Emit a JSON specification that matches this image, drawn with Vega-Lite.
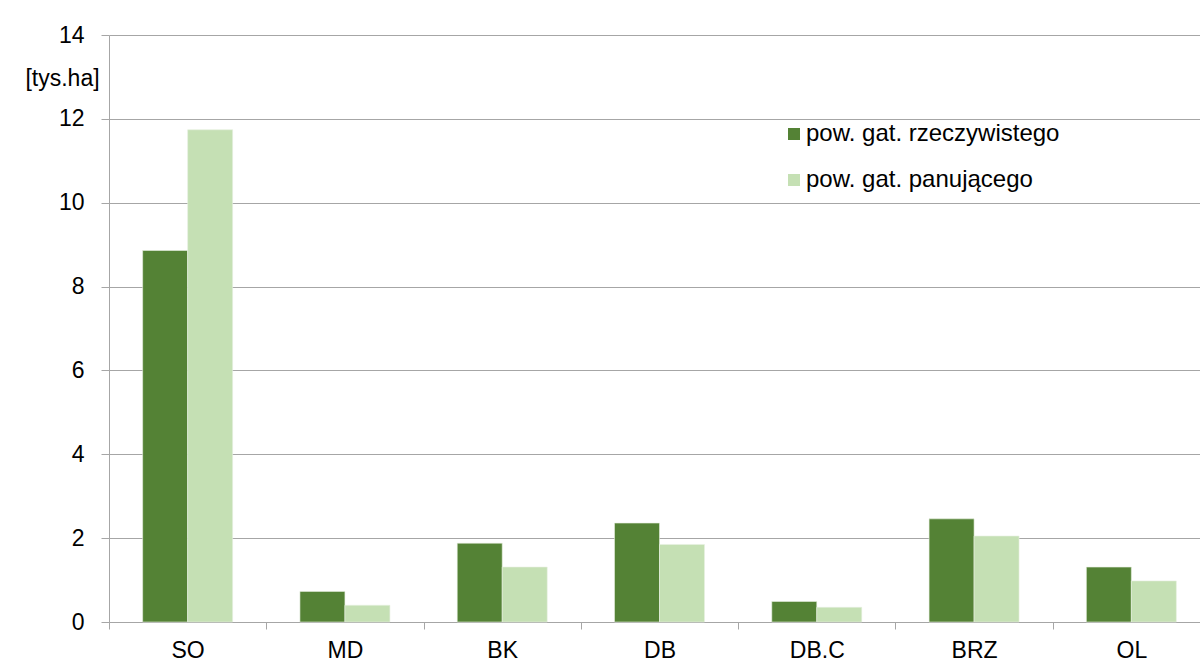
{
  "$schema": "https://vega.github.io/schema/vega-lite/v6.json",
  "width": 1091,
  "height": 587,
  "autosize": "none",
  "padding": {"left": 109, "top": 35, "right": 0, "bottom": 39},
  "background": "white",
  "config": {
    "font": "Liberation Sans",
    "view": {"stroke": null},
    "axis": {"labelFont": "Liberation Sans", "labelFontSize": 23, "labelColor": "black", "domainColor": "#a6a6a6", "tickColor": "#a6a6a6", "gridColor": "#a6a6a6"}
  },
  "data": {
    "values": [
      {"kat": "SO", "seria": "pow. gat. rzeczywistego", "wartosc": 8.86},
      {"kat": "SO", "seria": "pow. gat. panującego", "wartosc": 11.74},
      {"kat": "MD", "seria": "pow. gat. rzeczywistego", "wartosc": 0.73},
      {"kat": "MD", "seria": "pow. gat. panującego", "wartosc": 0.40},
      {"kat": "BK", "seria": "pow. gat. rzeczywistego", "wartosc": 1.88},
      {"kat": "BK", "seria": "pow. gat. panującego", "wartosc": 1.31},
      {"kat": "DB", "seria": "pow. gat. rzeczywistego", "wartosc": 2.36},
      {"kat": "DB", "seria": "pow. gat. panującego", "wartosc": 1.85},
      {"kat": "DB.C", "seria": "pow. gat. rzeczywistego", "wartosc": 0.49},
      {"kat": "DB.C", "seria": "pow. gat. panującego", "wartosc": 0.35},
      {"kat": "BRZ", "seria": "pow. gat. rzeczywistego", "wartosc": 2.46},
      {"kat": "BRZ", "seria": "pow. gat. panującego", "wartosc": 2.05},
      {"kat": "OL", "seria": "pow. gat. rzeczywistego", "wartosc": 1.31},
      {"kat": "OL", "seria": "pow. gat. panującego", "wartosc": 0.98}
    ]
  },
  "mark": {"type": "bar", "stroke": "#e8f0e0", "strokeWidth": 0.6},
  "encoding": {
    "x": {
      "field": "kat",
      "type": "nominal",
      "sort": ["SO", "MD", "BK", "DB", "DB.C", "BRZ", "OL"],
      "scale": {"paddingInner": 0, "paddingOuter": 0, "range": [0, 1101]},
      "axis": {"title": null, "labelAngle": 0, "tickBand": "extent", "tickSize": 7, "labelPadding": 10, "grid": false}
    },
    "xOffset": {
      "field": "seria",
      "sort": ["pow. gat. rzeczywistego", "pow. gat. panującego"],
      "scale": {"paddingInner": 0, "paddingOuter": 0.748}
    },
    "y": {
      "field": "wartosc",
      "type": "quantitative",
      "scale": {"domain": [0, 14], "nice": false},
      "axis": {
        "values": [0, 2, 4, 6, 8, 10, 12, 14],
        "grid": true,
        "tickSize": 8,
        "labelPadding": 17,
        "title": "[tys.ha]",
        "titleAngle": 0,
        "titleFont": "Liberation Sans",
        "titleFontSize": 23,
        "titleFontWeight": "normal",
        "titleColor": "black",
        "titleAlign": "center",
        "titleBaseline": "middle",
        "titleX": -47,
        "titleY": 43
      }
    },
    "color": {
      "field": "seria",
      "type": "nominal",
      "scale": {"domain": ["pow. gat. rzeczywistego", "pow. gat. panującego"], "range": ["#548235", "#c5e0b4"]},
      "legend": {
        "title": null,
        "orient": "none",
        "legendX": 673,
        "legendY": 87,
        "symbolType": "square",
        "symbolSize": 144,
        "symbolStrokeWidth": 0,
        "labelFont": "Liberation Sans",
        "labelFontSize": 24,
        "labelColor": "black",
        "labelOffset": 0,
        "labelLimit": 0,
        "rowPadding": 22
      }
    }
  }
}
